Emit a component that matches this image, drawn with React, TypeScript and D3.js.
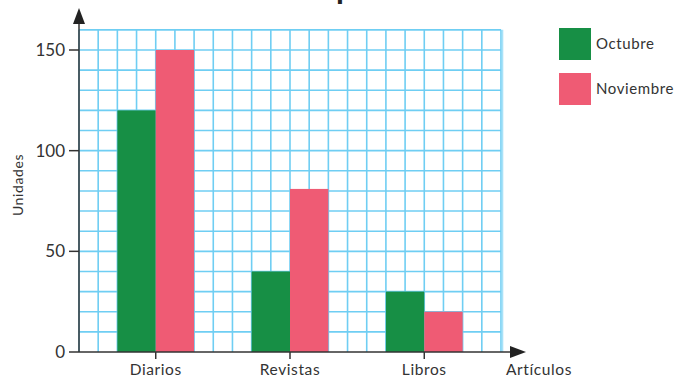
import React from "react";
import * as d3 from "d3";

const categories = ["Diarios", "Revistas", "Libros"];
const seriesNames = ["Octubre", "Noviembre"];
const octubre = [120, 40, 30];
const noviembre = [150, 81, 20];
const yTicks = [0, 50, 100, 150];
const colors = ["#178f45", "#ef5b74"];

const W = 677;
const H = 379;
const x0 = 79;
const cols = 22;
const cw = (501 - x0) / cols;
const FONT = "Lato, 'Open Sans', sans-serif";

export default function App() {
  const y = d3.scaleLinear().domain([0, 150]).range([352, 50]);
  const xc = d3
    .scalePoint<string>()
    .domain(categories)
    .range([x0 + 4 * cw, x0 + 18 * cw]);
  const barW = 2 * cw;
  const series = [octubre, noviembre];
  const vLines = d3.range(cols + 1).map((i) => x0 + i * cw);
  const hLines = d3.range(1, 17).map((v) => v * 10);
  const right = x0 + cols * cw;

  return (
    <svg
      width={W}
      height={H}
      style={{ position: "absolute", left: 0, top: 0, background: "#fff" }}
      fontFamily={FONT}
    >
      {/* cut-off title */}
      <text x={336} y={-1} fontSize={32} fontWeight={700} fill="#222">
        p
      </text>
      {/* grid */}
      <g stroke="#6fcef3" strokeWidth={1.6}>
        {vLines.map((xv, i) => (
          <line key={"v" + i} x1={xv} x2={xv} y1={y(160)} y2={y(0)} />
        ))}
        {hLines.map((v) => (
          <line key={"h" + v} x1={x0} x2={right} y1={y(v)} y2={y(v)} />
        ))}
        <line x1={right + 1.5} x2={right + 1.5} y1={y(160)} y2={y(0)} stroke="#a9e2f8" />
      </g>
      {/* bars */}
      {categories.map((c, i) =>
        series.map((s, j) => {
          const cx = xc(c)!;
          const bx = j === 0 ? cx - barW : cx;
          return (
            <rect
              key={c + j}
              x={bx}
              y={y(s[i])}
              width={barW}
              height={y(0) - y(s[i])}
              fill={colors[j]}
            />
          );
        })
      )}
      {/* axes */}
      <g stroke="#333" strokeWidth={1.5}>
        <line x1={x0} x2={x0} y1={y(0)} y2={22} />
        <line x1={x0} x2={514} y1={y(0)} y2={y(0)} />
        {yTicks.map((t) => (
          <line key={"yt" + t} x1={69} x2={x0} y1={y(t)} y2={y(t)} />
        ))}
        {categories.map((c) => (
          <line key={"xt" + c} x1={xc(c)} x2={xc(c)} y1={y(0)} y2={y(0) + 7} />
        ))}
      </g>
      <path d={`M${x0},8 L${x0 - 6},24 L${x0 + 6},24 Z`} fill="#222" />
      <path d={`M526,${y(0)} L510,${y(0) - 6} L510,${y(0) + 6} Z`} fill="#222" />
      {/* tick labels */}
      {yTicks.map((t) => (
        <text
          key={"yl" + t}
          x={65}
          y={y(t)}
          dy="0.36em"
          textAnchor="end"
          fontSize={17}
          fill="#333"
        >
          {t}
        </text>
      ))}
      {categories.map((c) => (
        <text
          key={"xl" + c}
          x={xc(c)}
          y={375}
          textAnchor="middle"
          fontSize={15.5}
          letterSpacing={0.6}
          fill="#333"
        >
          {c}
        </text>
      ))}
      <text x={506} y={375} fontSize={15.5} letterSpacing={0.6} fill="#333">
        Artículos
      </text>
      <text
        transform="translate(23,185) rotate(-90)"
        textAnchor="middle"
        fontSize={14}
        letterSpacing={0.6}
        fill="#333"
      >
        Unidades
      </text>
      {/* legend */}
      {seriesNames.map((n, j) => (
        <g key={n} transform={`translate(559,${28 + j * 45})`}>
          <rect width={32} height={32} fill={colors[j]} />
          <text x={37} y={16} dy="0.36em" fontSize={15} letterSpacing={0.6} fill="#333">
            {n}
          </text>
        </g>
      ))}
    </svg>
  );
}
